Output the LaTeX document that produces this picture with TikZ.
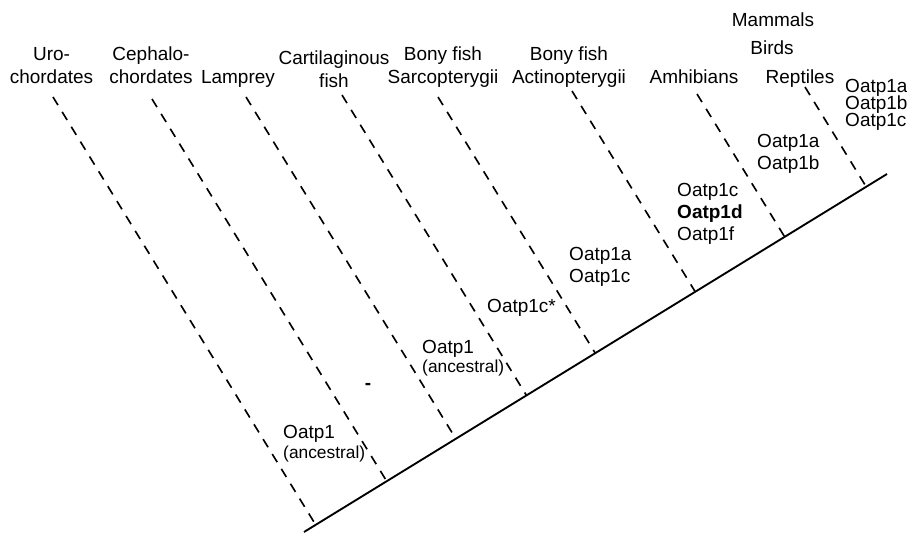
\documentclass[tikz,border=0pt]{standalone}
\usepackage{fontspec}
\setmainfont{Liberation Sans}
\usetikzlibrary{calc}

\tikzset{
    clade/.style={font=\fontsize{16.2}{18.8}\selectfont, align=center, inner sep=0pt, anchor=base},
    gene/.style={font=\fontsize{16.2}{18.5}\selectfont, align=left, inner sep=0pt, anchor=base west},
    branch/.style={line width=1.4pt, dash pattern=on 8.1pt off 6.8pt},
    stem/.style={line width=1.6pt}
}
\newcommand{\anc}{\fontsize{14.8}{17.2}\selectfont(ancestral)}

\begin{document}
\begin{tikzpicture}[x=0.03cm, y=-0.03cm]
    \useasboundingbox (0,0) rectangle (907,533);

    % backbone of the tree
        \coordinate (root) at (304,532);
        \coordinate (tip) at (887,174);
        \draw[stem] (root) -- (tip);

    % upper ends of the branches
        \coordinate (uro) at (53,97);
        \coordinate (ceph) at (152,99);
        \coordinate (lamp) at (246,97);
        \coordinate (cart) at (342,95);
        \coordinate (sarc) at (438,97);
        \coordinate (acti) at (572,91);
        \coordinate (amph) at (697,94);
        \coordinate (rept) at (805,87);

    % branches drop square onto the backbone
    \foreach \t in {uro,ceph,lamp,cart,sarc,acti,amph,rept}
        \draw[branch] (\t) -- ($(root)!(\t)!(tip)$) coordinate (\t-foot);

    % taxa (placed by the baseline of the last line)
    \node[clade] (urolab) at (51.5,83) {Uro-\\chordates};
    \node[clade] (cephlab) at (151,83) {Cephalo-\\chordates};
    \node[clade] (lamplab) at (238,83) {Lamprey};
    \node[clade] (cartlab) at (334,87) {Cartilaginous\\fish};
    \node[clade] (sarclab) at (443,83) {Bony fish\\Sarcopterygii};
    \node[clade] (actilab) at (569,83) {Bony fish\\Actinopterygii};
    \node[clade] (amphlab) at (694,83) {Amhibians};
    \node[clade] (mammlab) at (773,26.5) {Mammals};
    \node[clade] (birdlab) at (772,54.5) {Birds};
    \node[clade] (reptlab) at (800,83) {Reptiles};

    % genes on each branch
    \node[gene] (cephgene) at (283,458) {Oatp1\\[-1.7pt]\anc};
    \node[font=\fontsize{16.2}{18.8}\selectfont\bfseries, inner sep=0pt] (lampgene) at (368,386) {-};
    \node[gene] (cartgene) at (422,372.7) {Oatp1\\[-1.7pt]\anc};
    \node[gene] (sarcgene) at (487,312) {Oatp1c*};
    \node[gene] (actigene) at (569,282) {Oatp1a\\Oatp1c};
    \node[gene] (amphgene) at (677,240) {Oatp1c\\\textbf{Oatp1d}\\Oatp1f};
    \node[gene] (reptgene) at (757,169) {Oatp1a\\Oatp1b};
    \node[gene] (mammgene) at (845,126) {Oatp1a\\[-4.2pt]Oatp1b\\[-4.2pt]Oatp1c};

\end{tikzpicture}
\end{document}
